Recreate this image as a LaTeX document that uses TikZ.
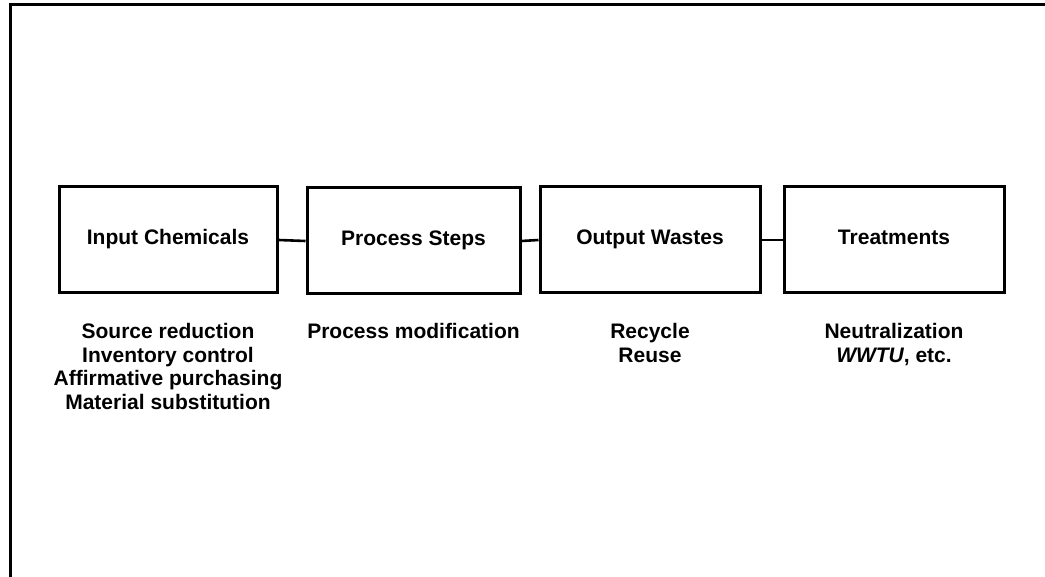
\documentclass[tikz,border=0pt]{standalone}
\usepackage{fontspec}
\setmainfont{Liberation Sans}
\begin{document}
\begin{tikzpicture}[x=1pt,y=-1pt,line width=3pt,
  stagebox/.style={draw, minimum height=106pt, inner sep=0pt,
    font=\fontsize{21}{23.5}\selectfont\bfseries, text height=15pt, text depth=5pt},
  note/.style={anchor=north, align=center, inner sep=0pt,
    font=\fontsize{21}{23.5}\selectfont\bfseries},
  link/.style={line width=2.6pt}]
\useasboundingbox (0,0) rectangle (1045,577);
% frame
\draw (10,577) -- (10,5) -- (1045,5);
% boxes
\node[stagebox, minimum width=218pt] (b1) at (168,240) {Input Chemicals};
\node[stagebox, minimum width=213pt] (b2) at (413.5,241) {Process Steps};
\node[stagebox, minimum width=220pt] (b3) at (650,240) {Output Wastes};
\node[stagebox, minimum width=220pt] (b4) at (894,240) {Treatments};
% connectors
\draw[link] (b1.east) -- (b2.west);
\draw[link] (b2.east) -- (b3.west);
\draw[link] (b3.east) -- (b4.west);
% notes
\node[note] (n1) at (168,322) {Source reduction\\Inventory control\\Affirmative purchasing\\Material substitution};
\node[note] (n2) at (413.5,322) {Process modification};
\node[note] (n3) at (650,322) {Recycle\\Reuse};
\node[note] (n4) at (894,322) {Neutralization\\\textit{WWTU}, etc.};
\end{tikzpicture}
\end{document}
